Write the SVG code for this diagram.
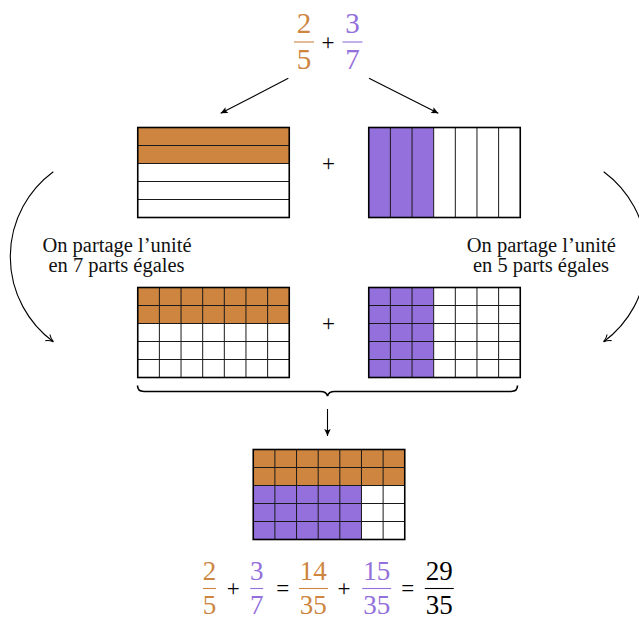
<svg xmlns="http://www.w3.org/2000/svg" width="639" height="619" viewBox="0 0 639 619">
  <style>
    .math { font-family: "Liberation Serif", "DejaVu Serif", serif; text-anchor: middle; }
    .num { font-size: 29px; }
    .small { font-size: 27px; }
    .op { font-family: "Liberation Serif", "DejaVu Serif", serif; text-anchor: middle; font-size: 23px; fill: #000; }
    .orange { fill: #CD853F; }
    .purple { fill: #9370DB; }
    .black { fill: #000; }
    .bar { stroke-width: 1.1; }
    .bar.o { stroke: #CD853F; }
    .bar.p { stroke: #9370DB; }
    .bar.k { stroke: #000; }
    .label { font-family: "Liberation Serif", "DejaVu Serif", serif; font-size: 20.5px; text-anchor: middle; fill: #111; }
    .fo { fill: #CD853F; }
    .fp { fill: #9370DB; }
    .inner { fill: none; stroke: #1a1a1a; stroke-width: 1; }
    .outer { fill: none; stroke: #000; stroke-width: 1.6; }
    .conn { fill: none; stroke: #000; stroke-width: 1.1; }
    .brace { fill: none; stroke: #000; stroke-width: 1.6; }
  </style>
  <defs>
    <marker id="tip" viewBox="-1 -4 9 8" refX="7" refY="0" markerWidth="9" markerHeight="8" markerUnits="userSpaceOnUse" orient="auto">
      <path d="M0,-3.2 L7,0 L0,3.2 L1.4,0 z" fill="#000"/>
    </marker>
    <marker id="vtip" viewBox="-1 -5 10 10" refX="7" refY="0" markerWidth="10" markerHeight="10" markerUnits="userSpaceOnUse" orient="auto">
      <path d="M0,-3.8 Q3,-1 7,0 Q3,1 0,3.8" fill="none" stroke="#000" stroke-width="1.1"/>
    </marker>
  </defs>

  <!-- top sum 2/5 + 3/7 -->
  <g id="top-sum">
    <text class="math num orange" x="304" y="33">2</text>
    <line class="bar o" x1="294" y1="42" x2="314" y2="42"/>
    <text class="math num orange" x="304" y="68.5">5</text>
    <text class="op" x="328" y="50">+</text>
    <text class="math num purple" x="352.5" y="33">3</text>
    <line class="bar p" x1="342.5" y1="42" x2="362.5" y2="42"/>
    <text class="math num purple" x="352.5" y="68.5">7</text>
  </g>

  <!-- 2/5 in fifths -->
  <g id="fifths">
    <rect class="fo" x="137.75" y="127.5" width="151.5" height="36"/>
    <path class="inner" d="M137.75,145.5H289.25M137.75,163.5H289.25M137.75,181.5H289.25M137.75,199.5H289.25"/>
    <rect class="outer" x="137.75" y="127.5" width="151.5" height="90"/>
  </g>

  <g id="plus-top"><text class="op" x="328.5" y="170.5">+</text></g>

  <!-- 3/7 in sevenths -->
  <g id="sevenths">
    <rect class="fp" x="368.75" y="127.5" width="64.93" height="90"/>
    <path class="inner" d="M390.39,127.5V217.5M412.04,127.5V217.5M433.68,127.5V217.5M455.32,127.5V217.5M476.96,127.5V217.5M498.61,127.5V217.5"/>
    <rect class="outer" x="368.75" y="127.5" width="151.5" height="90"/>
  </g>

  <!-- 14/35 -->
  <g id="fifths-split">
    <rect class="fo" x="137.75" y="287.5" width="151.5" height="36"/>
    <path class="inner" d="M159.39,287.5V377.5M181.04,287.5V377.5M202.68,287.5V377.5M224.32,287.5V377.5M245.96,287.5V377.5M267.61,287.5V377.5M137.75,305.5H289.25M137.75,323.5H289.25M137.75,341.5H289.25M137.75,359.5H289.25"/>
    <rect class="outer" x="137.75" y="287.5" width="151.5" height="90"/>
  </g>

  <g id="plus-mid"><text class="op" x="328.5" y="330.5">+</text></g>

  <!-- 15/35 -->
  <g id="sevenths-split">
    <rect class="fp" x="368.75" y="287.5" width="64.93" height="90"/>
    <path class="inner" d="M390.39,287.5V377.5M412.04,287.5V377.5M433.68,287.5V377.5M455.32,287.5V377.5M476.96,287.5V377.5M498.61,287.5V377.5M368.75,305.5H520.25M368.75,323.5H520.25M368.75,341.5H520.25M368.75,359.5H520.25"/>
    <rect class="outer" x="368.75" y="287.5" width="151.5" height="90"/>
  </g>

  <!-- 29/35 -->
  <g id="total">
    <rect class="fo" x="253.25" y="449.5" width="151.5" height="36"/>
    <rect class="fp" x="253.25" y="485.5" width="108.21" height="54"/>
    <path class="inner" d="M274.89,449.5V539.5M296.54,449.5V539.5M318.18,449.5V539.5M339.82,449.5V539.5M361.46,449.5V539.5M383.11,449.5V539.5M253.25,467.5H404.75M253.25,485.5H404.75M253.25,503.5H404.75M253.25,521.5H404.75"/>
    <rect class="outer" x="253.25" y="449.5" width="151.5" height="90"/>
  </g>

  <!-- side labels -->
  <g id="label-left">
    <text class="label" x="117" y="252">On partage l’unité</text>
    <text class="label" x="116.5" y="272">en 7 parts égales</text>
  </g>
  <g id="label-right">
    <text class="label" x="541.3" y="252">On partage l’unité</text>
    <text class="label" x="541" y="272">en 5 parts égales</text>
  </g>

  <!-- bottom equation -->
  <g id="equation">
    <text class="math small orange" x="209.5" y="580">2</text>
    <line class="bar o" x1="203" y1="588.5" x2="216" y2="588.5"/>
    <text class="math small orange" x="209.5" y="613.5">5</text>
    <text class="op" x="233.3" y="596">+</text>
    <text class="math small purple" x="256.7" y="580">3</text>
    <line class="bar p" x1="250.2" y1="588.5" x2="263.2" y2="588.5"/>
    <text class="math small purple" x="256.7" y="613.5">7</text>
    <text class="op" x="282.7" y="596">=</text>
    <text class="math small orange" x="313.3" y="580">14</text>
    <line class="bar o" x1="299" y1="588.5" x2="328" y2="588.5"/>
    <text class="math small orange" x="313.3" y="613.5">35</text>
    <text class="op" x="344" y="596">+</text>
    <text class="math small purple" x="376.7" y="580">15</text>
    <line class="bar p" x1="362.2" y1="588.5" x2="391.2" y2="588.5"/>
    <text class="math small purple" x="376.7" y="613.5">35</text>
    <text class="op" x="407.7" y="596">=</text>
    <text class="math small black" x="439.3" y="580">29</text>
    <line class="bar k" x1="424.8" y1="588.5" x2="453.8" y2="588.5"/>
    <text class="math small black" x="439.3" y="613.5">35</text>
  </g>

  <!-- connectors -->
  <g id="connectors">
    <path class="conn" d="M288.3,78.3L220.7,113.3" marker-end="url(#tip)"/>
    <path class="conn" d="M369,78.3L438.3,113.3" marker-end="url(#tip)"/>
    <path class="conn" d="M53.3,171.7A105.5,105.5 0 0 0 53.3,341.7" marker-end="url(#vtip)"/>
    <path class="conn" d="M603.7,171.7A105.5,105.5 0 0 1 603.7,341.7" marker-end="url(#vtip)"/>
    <path class="brace" d="M137.5,385.5Q137.5,391.5 144,391.5L320.5,391.5Q326.5,391.5 327.5,396Q328.5,391.5 334.5,391.5L511,391.5Q517.5,391.5 517.5,385.5"/>
    <path class="conn" d="M327.5,409L327.5,436" marker-end="url(#tip)"/>
  </g>
</svg>
